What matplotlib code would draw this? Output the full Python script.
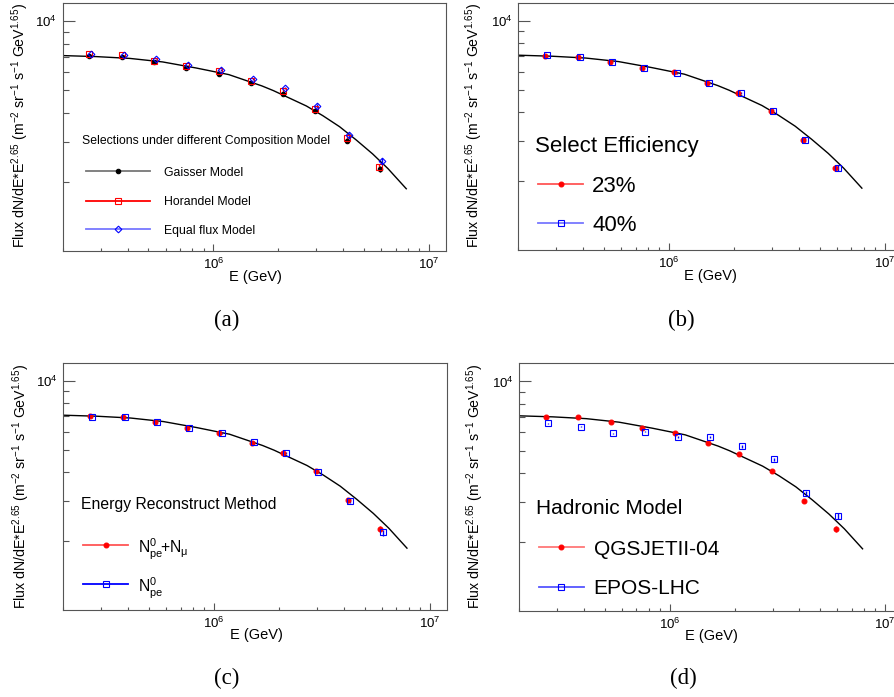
import numpy as np
import matplotlib
matplotlib.use('Agg')
import matplotlib.pyplot as plt
from matplotlib.lines import Line2D
from matplotlib.ticker import FixedLocator, FuncFormatter, NullFormatter

plt.rcParams['font.family'] = ['Liberation Sans', 'DejaVu Sans']
plt.rcParams['mathtext.fontset'] = 'custom'
plt.rcParams['mathtext.rm'] = 'Liberation Sans'
plt.rcParams['mathtext.it'] = 'Liberation Sans:italic'
plt.rcParams['mathtext.bf'] = 'Liberation Sans:bold'

# energy bin centres (GeV)
energy = [2.66e5, 3.77e5, 5.32e5, 7.48e5, 1.06e6, 1.50e6, 2.10e6, 2.97e6, 4.18e6, 5.91e6]
rel_err = [0.004, 0.004, 0.005, 0.006, 0.008, 0.010, 0.012, 0.016, 0.022, 0.03]

# fitted spectrum (same curve on every panel)
curve_e = [2.0e5, 2.87e5, 4.1e5, 5.82e5, 8.29e5, 1.18e6, 1.68e6, 1.90e6, 2.70e6, 3.22e6,
           3.85e6, 4.59e6, 5.48e6, 6.46e6, 7.85e6]
curve_flux = [7090, 7017, 6892, 6653, 6266, 5860, 5233, 4992, 4282, 3885,
              3480, 3052, 2650, 2286, 1870]

# (a) composition models
flux_gaisser = [7064, 6974, 6653, 6266, 5918, 5375, 4830, 4062, 3027, 2286]
flux_horandel = [7207, 7115, 6741, 6393, 6062, 5517, 4992, 4169, 3109, 2332]
flux_equal = [7207, 7115, 6836, 6438, 6142, 5595, 5128, 4282, 3193, 2477]

# (b) select efficiency
flux_eff23 = [7054, 6982, 6655, 6266, 5964, 5389, 4847, 4072, 3037, 2286]
flux_eff40 = [7070, 6995, 6640, 6234, 5945, 5367, 4850, 4072, 3043, 2290]

# (c) energy reconstruction
flux_npe_nmu = [7017, 6947, 6607, 6247, 5940, 5354, 4830, 4045, 3017, 2273]
flux_npe = [6947, 6975, 6637, 6266, 5917, 5407, 4865, 4020, 3008, 2188]

# (d) hadronic model
flux_qgsjet = [7017, 6975, 6634, 6247, 5940, 5375, 4830, 4074, 3027, 2277]
flux_epos = [6569, 6348, 5959, 6038, 5726, 5726, 5216, 4594, 3279, 2588]

W, H = 895, 697
fig = plt.figure(figsize=(W / 100, H / 100), dpi=100)


def fx(x):
    return x / W


def fy(y):
    return 1 - y / H


def make_axes(l, t, r, b):
    ax = fig.add_axes([fx(l), fy(b), (r - l) / W, (b - t) / H])
    ax.set_xscale('log')
    ax.set_yscale('log')
    ax.set_xlim(2e5, 1.2e7)
    ax.set_ylim(1006, 12000)
    ax.xaxis.set_major_locator(FixedLocator([1e6, 1e7]))
    ax.xaxis.set_minor_locator(FixedLocator([k * 10 ** d for d in (5, 6) for k in range(2, 10)]))
    ax.yaxis.set_major_locator(FixedLocator([1e4]))
    ax.yaxis.set_minor_locator(FixedLocator([k * 1000 for k in range(2, 10)]))
    fmt = FuncFormatter(lambda v, p: r'$10^{%d}$' % round(np.log10(v)))
    ax.xaxis.set_major_formatter(fmt)
    ax.yaxis.set_major_formatter(fmt)
    ax.xaxis.set_minor_formatter(NullFormatter())
    ax.yaxis.set_minor_formatter(NullFormatter())
    for s in ax.spines.values():
        s.set_color('#555555')
        s.set_linewidth(0.8)
    ax.tick_params(which='both', direction='in', color='#555555', width=0.8, labelsize=9.5)
    ax.tick_params(axis='x', which='major', length=4.8, pad=4.5)
    ax.tick_params(axis='x', which='minor', length=2.4)
    ax.tick_params(axis='y', which='major', length=8.8, pad=4)
    ax.tick_params(axis='y', which='minor', length=4.4)
    ax.plot(curve_e, curve_flux, color='black', lw=1.0, zorder=2)
    return ax


def points(ax, flux, color, marker, filled, shift=1.0, ms=3.5):
    e = np.array(energy) * shift
    f = np.array(flux)
    ax.errorbar(e, f, yerr=f * np.array(rel_err), fmt=marker, color=color,
                mfc=color if filled else 'none', mec=color, ms=ms, mew=0.8,
                elinewidth=1.0, capsize=0, zorder=3)


def entry(x0, x1, y, tx, label, color, marker, filled, size, ms=3.5, lcolor=None):
    fig.add_artist(Line2D([fx(x0), fx(x1)], [fy(y), fy(y)], color=lcolor or color, lw=1.3))
    fig.add_artist(Line2D([fx((x0 + x1) / 2)], [fy(y)], marker=marker, color=color,
                          mfc=color if filled else 'none', mec=color, ms=ms, mew=0.8, lw=0))
    fig.text(fx(tx), fy(y), label, ha='left', va='center_baseline', fontsize=size)


ylab = r'Flux dN/dE*E$^{2.65}$ (m$^{-2}$ sr$^{-1}$ s$^{-1}$ GeV$^{1.65}$)'

panels = [
    ('a', (62.7, 3.0, 446.0, 250.7), (20, 126), (255, 277), (226.7, 320)),
    ('b', (518.3, 2.7, 901.6, 250.0), (474.7, 126), (710.3, 276), (681.3, 320)),
    ('c', (63.3, 362.7, 446.7, 610.0), (20.8, 487), (256.7, 635), (226.7, 678)),
    ('d', (519.0, 363.3, 902.3, 610.7), (475.5, 487), (711.3, 636), (683, 678)),
]

axs = {}
for name, box, yl, xl, cap in panels:
    ax = make_axes(*box)
    axs[name] = ax
    fig.text(fx(yl[0]), fy(yl[1]), ylab, rotation=90, ha='center', va='center', fontsize=10.2)
    fig.text(fx(xl[0]), fy(xl[1]), 'E (GeV)', ha='center', va='center', fontsize=10.5)
    fig.text(fx(cap[0]), fy(cap[1]), '(%s)' % name, ha='center', va='center', fontsize=16.5,
             family='Liberation Serif')

# (a)
ax = axs['a']
points(ax, flux_gaisser, 'black', 'o', True, ms=3.2)
points(ax, flux_horandel, 'red', 's', False, shift=0.997, ms=4.5)
points(ax, flux_equal, 'blue', 'D', False, shift=1.021, ms=3.4)
fig.text(fx(81.7), fy(140.7), 'Selections under different Composition Model', ha='left',
         va='center', fontsize=8.8)
entry(86, 149.7, 171, 163.7, 'Gaisser Model', 'black', 'o', True, 8.8, ms=3.2, lcolor='#777777')
entry(86, 149.7, 200.7, 163.7, 'Horandel Model', 'red', 's', False, 8.8, ms=4.5)
entry(86, 149.7, 229.3, 163.7, 'Equal flux Model', 'blue', 'D', False, 8.8, ms=3.4, lcolor='#7777ff')

# (b)
ax = axs['b']
points(ax, flux_eff23, 'red', 'o', True)
points(ax, flux_eff40, 'blue', 's', False, shift=1.025, ms=4.5)
fig.text(fx(535.3), fy(146.7), 'Select Efficiency', ha='left', va='center', fontsize=16)
entry(538, 583, 184.3, 592.3, '23%', 'red', 'o', True, 16, lcolor='#ff5555')
entry(538, 583, 223.3, 592.3, '40%', 'blue', 's', False, 16, ms=4.5, lcolor='#7777ff')

# (c)
ax = axs['c']
points(ax, flux_npe_nmu, 'red', 'o', True)
points(ax, flux_npe, 'blue', 's', False, shift=1.025, ms=4.5)
fig.text(fx(80.7), fy(505), 'Energy Reconstruct Method', ha='left', va='center', fontsize=11.3)
entry(83.3, 128.3, 545, 138.3, r'$\mathrm{N^{0}_{pe}\!{+}N_{\mu}}$', 'red', 'o', True, 11.3,
      lcolor='#ff5555')
entry(83.3, 128.3, 584.3, 138.3, r'$\mathrm{N^{0}_{pe}}$', 'blue', 's', False, 11.3, ms=4.5)

# (d)
ax = axs['d']
points(ax, flux_qgsjet, 'red', 'o', True)
points(ax, flux_epos, 'blue', 's', False, shift=1.027, ms=4.5)
fig.text(fx(535.7), fy(508.3), 'Hadronic Model', ha='left', va='center', fontsize=15)
entry(538.7, 584, 547.3, 593.7, 'QGSJETII-04', 'red', 'o', True, 15, lcolor='#ff7777')
entry(538.7, 584, 586.7, 593.7, 'EPOS-LHC', 'blue', 's', False, 15, ms=4.5, lcolor='#5555ff')

fig.savefig('out.png', dpi=100)
